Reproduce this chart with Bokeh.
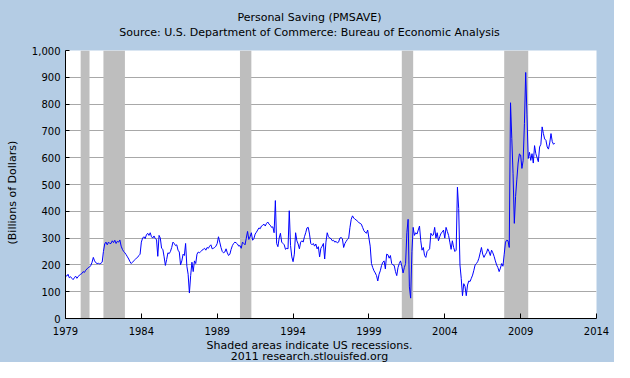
import math
from bokeh.plotting import figure
from bokeh.layouts import column, row
from bokeh.models import FixedTicker, NumeralTickFormatter, BasicTickFormatter, Label, Range1d
from bokeh.embed import file_html
from bokeh.resources import INLINE

# ---- data (Personal Saving, billions of dollars, monthly from Jan 1979) ----
start_year = 1979
s1979 = [162, 158, 165, 152, 156, 150, 145, 152, 158, 150, 156, 162]
s1980 = [165, 168, 175, 172, 180, 185, 190, 192, 198, 210, 228, 215]
s1981 = [208, 205, 206, 204, 206, 210, 250, 278, 285, 275, 285, 280]
s1982 = [280, 290, 283, 292, 280, 288, 285, 293, 270, 258, 250, 245]
s1983 = [238, 230, 222, 212, 205, 210, 215, 220, 225, 228, 235, 240]
s1984 = [285, 300, 305, 298, 312, 318, 310, 320, 305, 300, 308, 298]
s1985 = [295, 232, 310, 300, 262, 258, 230, 198, 220, 245, 242, 250]
s1986 = [265, 285, 280, 272, 275, 255, 248, 200, 215, 240, 235, 280]
s1987 = [195, 165, 95, 160, 210, 175, 215, 205, 240, 248, 245, 250]
s1988 = [255, 258, 262, 255, 265, 262, 270, 275, 260, 262, 265, 270]
s1989 = [280, 305, 285, 265, 250, 245, 248, 260, 245, 235, 240, 258]
s1990 = [272, 280, 285, 282, 278, 270, 272, 262, 285, 280, 275, 300]
s1991 = [325, 295, 305, 320, 292, 298, 315, 322, 330, 338, 335, 345]
s1992 = [348, 352, 345, 355, 360, 352, 348, 340, 342, 320, 440, 280]
s1993 = [268, 300, 318, 285, 280, 275, 258, 262, 260, 402, 272, 230]
s1994 = [212, 240, 320, 290, 278, 260, 285, 290, 285, 305, 320, 338]
s1995 = [340, 315, 280, 275, 280, 270, 278, 260, 268, 230, 262, 270]
s1996 = [280, 222, 285, 320, 305, 300, 298, 290, 292, 285, 288, 282]
s1997 = [285, 300, 302, 298, 265, 280, 288, 295, 300, 340, 370, 383]
s1998 = [375, 370, 368, 362, 358, 355, 352, 340, 328, 322, 318, 330]
s1999 = [300, 270, 205, 190, 178, 170, 160, 140, 165, 178, 198, 210]
s2000 = [215, 185, 240, 238, 225, 235, 205, 200, 198, 175, 160, 190]
s2001 = [205, 215, 195, 170, 190, 205, 320, 370, 118, 76, 250, 340]
s2002 = [310, 320, 315, 330, 345, 290, 255, 265, 235, 228, 250, 255]
s2003 = [260, 318, 310, 312, 340, 300, 320, 290, 305, 318, 322, 330]
s2004 = [300, 340, 325, 310, 285, 258, 290, 265, 250, 255, 490, 410]
s2005 = [200, 150, 85, 130, 120, 85, 125, 140, 138, 150, 162, 180]
s2006 = [200, 205, 212, 225, 245, 265, 240, 228, 238, 245, 260, 250]
s2007 = [235, 255, 245, 232, 215, 200, 190, 175, 188, 205, 195, 240]
s2008 = [285, 292, 290, 265, 805, 672, 540, 355, 455, 520, 580, 614]
s2009 = [610, 560, 590, 727, 918, 760, 597, 620, 590, 615, 580, 645]
s2010 = [615, 600, 585, 640, 650, 715, 690, 670, 665, 640, 632, 655]
s2011 = [690, 660, 650, 655]

# NBER recessions: (start year, start month) -> (end year, end month)
rec_start_year = [1980, 1981, 1990, 2001, 2007]
rec_start_month = [1, 7, 7, 3, 12]
rec_end_year = [1980, 1982, 1991, 2001, 2009]
rec_end_month = [7, 11, 3, 11, 6]

x_ticks = [1979, 1984, 1989, 1994, 1999, 2004, 2009, 2014]
y_ticks = [0, 100, 200, 300, 400, 500, 600, 700, 800, 900, 1000]

title_text = "Personal Saving (PMSAVE)"
subtitle_text = "Source: U.S. Department of Commerce: Bureau of Economic Analysis"
ylabel_text = "(Billions of Dollars)"
note_text = "Shaded areas indicate US recessions."
credit_text = "2011 research.stlouisfed.org"

values = (s1979 + s1980 + s1981 + s1982 + s1983 + s1984 + s1985 + s1986 + s1987 + s1988
          + s1989 + s1990 + s1991 + s1992 + s1993 + s1994 + s1995 + s1996 + s1997 + s1998
          + s1999 + s2000 + s2001 + s2002 + s2003 + s2004 + s2005 + s2006 + s2007 + s2008
          + s2009 + s2010 + s2011)
dates = [start_year + i / 12.0 for i in range(len(values))]

rec_left = [y + (m - 1) / 12.0 for y, m in zip(rec_start_year, rec_start_month)]
rec_right = [y + m / 12.0 for y, m in zip(rec_end_year, rec_end_month)]

BG = "#B4CCE4"
FONT = "DejaVu Sans"
TOTAL_W = 614
HEAD_H = 42
MAIN_H = 296
FOOT_H = 24
STRIP_W = 24
BG_STYLE = {"background-color": BG}


def blank(w, h):
    f = figure(width=w, height=h, output_backend="svg", toolbar_location=None,
               x_range=Range1d(0, w), y_range=Range1d(0, h),
               x_axis_type=None, y_axis_type=None,
               min_border_left=0, min_border_right=0, min_border_top=0, min_border_bottom=0)
    f.grid.visible = False
    f.outline_line_color = None
    f.background_fill_color = BG
    f.border_fill_color = BG
    f.styles = BG_STYLE
    return f


def put(f, text, x, y, size="11px", angle=0.0):
    f.add_layout(Label(x=x, y=y, text=text, text_font=FONT, text_font_size=size,
                       text_color="black", text_align="center", text_baseline="middle",
                       angle=angle))


# header with title lines
head = blank(TOTAL_W, HEAD_H)
put(head, title_text, 309, 25)
put(head, subtitle_text, 309, 10)

# strip with the rotated axis label
strip = blank(STRIP_W, MAIN_H)
put(strip, ylabel_text, 12, 139, angle=math.pi / 2)

# main chart
p = figure(width=TOTAL_W - STRIP_W, height=MAIN_H, output_backend="svg", toolbar_location=None,
           x_range=Range1d(1979, 2014), y_range=Range1d(0, 1000),
           min_border_left=41, min_border_right=18, min_border_top=8, min_border_bottom=20)
p.border_fill_color = BG
p.background_fill_color = "white"
p.outline_line_color = None
p.styles = BG_STYLE

p.quad(left=rec_left, right=rec_right, bottom=0, top=1000,
       fill_color="#BEBEBE", line_color=None)
p.line(dates, values, line_color="#0000FF", line_width=1)

p.xgrid.visible = False
p.ygrid.ticker = FixedTicker(ticks=y_ticks)
p.ygrid.grid_line_color = "#A8A8A8"
p.ygrid.grid_line_width = 1

p.xaxis.ticker = FixedTicker(ticks=x_ticks)
p.xaxis.formatter = BasicTickFormatter(use_scientific=False)
p.yaxis.ticker = FixedTicker(ticks=y_ticks)
p.yaxis.formatter = NumeralTickFormatter(format="0,0")
for ax in (p.xaxis, p.yaxis):
    ax.axis_line_color = "black"
    ax.major_tick_line_color = "black"
    ax.minor_tick_line_color = None
    ax.major_tick_out = 0
    ax.major_label_text_font = FONT
    ax.major_label_text_font_size = "10px"
    ax.major_label_text_color = "black"
p.xaxis.major_tick_in = 5
p.yaxis.major_tick_in = 4
p.xaxis.major_label_standoff = 8
p.yaxis.major_label_standoff = 5

# footer with notes
foot = blank(TOTAL_W, FOOT_H)
put(foot, note_text, 309, 17.5)
put(foot, credit_text, 309, 6)

mid = row(strip, p, spacing=0, styles=BG_STYLE)
layout = column(head, mid, foot, spacing=0, styles=BG_STYLE)
open("out.html", "w").write(file_html(layout, INLINE))
